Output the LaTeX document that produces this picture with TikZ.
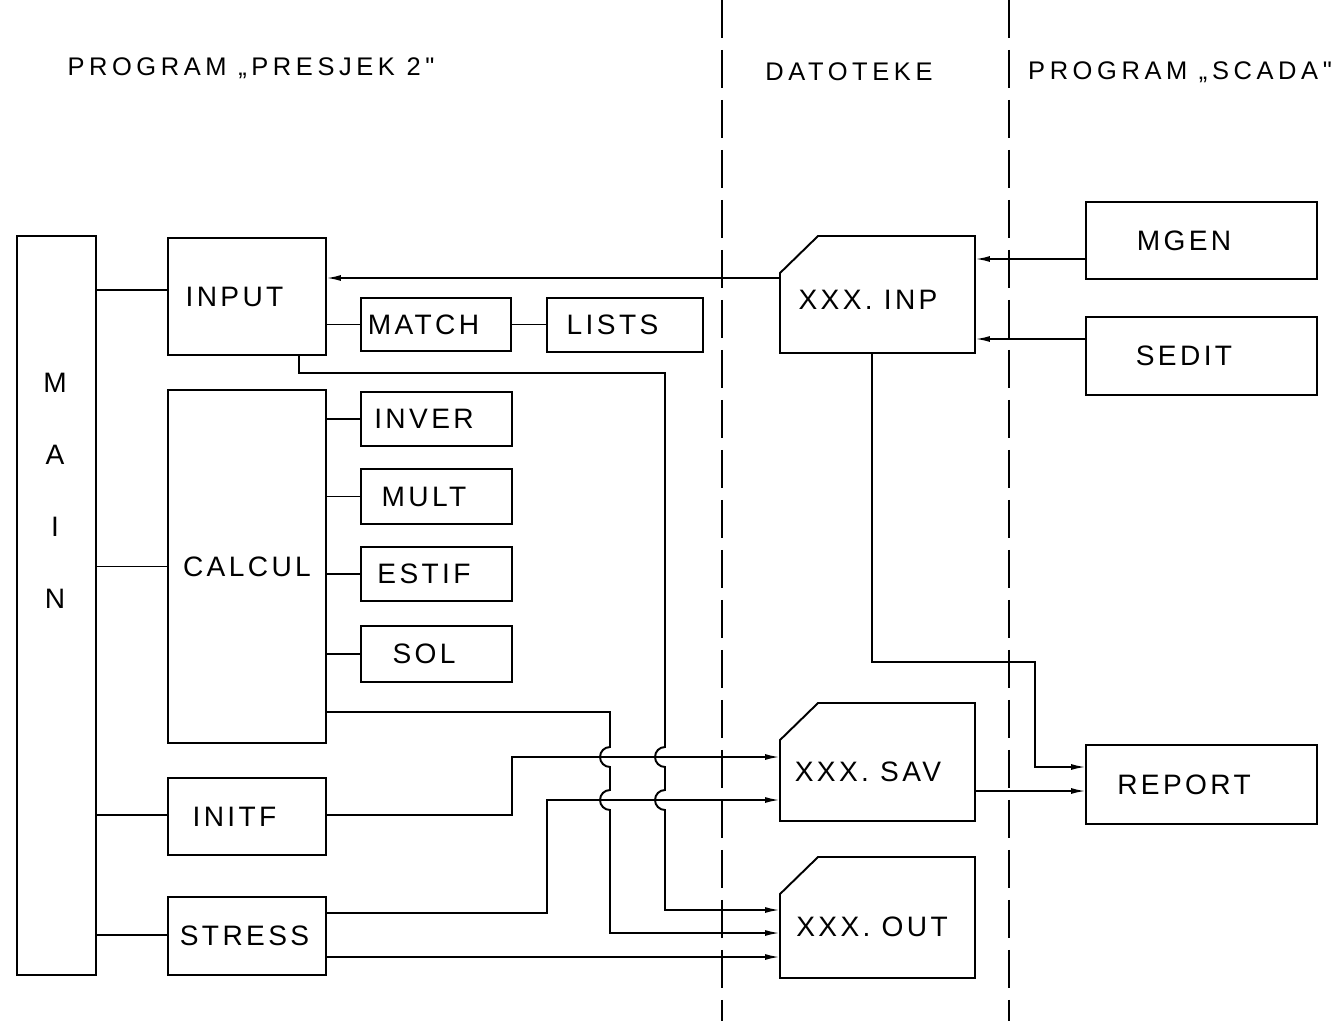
\documentclass[tikz,border=0pt]{standalone}
\usepackage{fontspec}
\setmainfont{Liberation Sans}
\newfontfamily\lblfont[LetterSpace=12]{Liberation Sans}
\newfontfamily\headfont[LetterSpace=18]{Liberation Sans}
\usetikzlibrary{arrows.meta}
\begin{document}
\begin{tikzpicture}[x=0.02cm,y=-0.02cm,line width=1.1pt,
  box/.style={draw,rectangle,inner sep=0pt,outer sep=0pt,font=\lblfont\fontsize{16}{19}\selectfont,
    execute at end node={\hspace*{#1}}},
  box/.default=0.5cm,
  fbox/.style={rectangle,inner sep=0pt,outer sep=0pt},
  lbl/.style={inner sep=0pt,font=\lblfont\fontsize{16}{19}\selectfont},
  head/.style={inner sep=0pt,font=\headfont\fontsize{14.5}{17}\selectfont},
  arr/.style={-{Latex[length=0.3cm,width=0.12cm]}},
  sep/.style={line width=1pt,dash pattern=on 0.76cm off 0.24cm}]
\useasboundingbox (0,0) rectangle (1335,1021);

% headings
\node[head] (h1) at (251,68) {PROGRAM „PRESJEK 2"};
\node[head] (h2) at (849,72) {DATOTEKE};
\node[head] (h3) at (1180,72) {PROGRAM „SCADA"};

% separators
\draw[sep] (722,0) -- (722,1021);
\draw[sep] (1009,0) -- (1009,1021);

% MAIN
\node[fbox,draw,minimum width=1.58cm,minimum height=14.78cm] (main) at (56.5,605.5) {};
\node[inner sep=0pt,align=center,font=\lblfont\fontsize{16}{41}\selectfont] (maintxt) at (55,491) {M\\A\\I\\N};

% program boxes
\node[box,minimum width=3.16cm,minimum height=2.34cm] (input) at (247,296.5) {INPUT};
\node[box,minimum width=3.0cm,minimum height=1.06cm] (match) at (436,324.5) {MATCH};
\node[box,minimum width=3.12cm,minimum height=1.08cm] (lists) at (625,325) {LISTS};
\node[box=0cm,minimum width=3.16cm,minimum height=7.06cm] (calcul) at (247,566.5) {CALCUL};
\node[box,minimum width=3.02cm,minimum height=1.08cm] (inver) at (436.5,419) {INVER};
\node[box,minimum width=3.02cm,minimum height=1.1cm] (mult) at (436.5,496.5) {MULT};
\node[box,minimum width=3.02cm,minimum height=1.08cm] (estif) at (436.5,574) {ESTIF};
\node[box,minimum width=3.02cm,minimum height=1.12cm] (sol) at (436.5,654) {SOL};
\node[box,minimum width=3.16cm,minimum height=1.54cm] (initf) at (247,816.5) {INITF};
\node[box=0.1cm,minimum width=3.16cm,minimum height=1.56cm] (stress) at (247,936) {STRESS};

% SCADA boxes
\node[box=0.7cm,minimum width=4.62cm,minimum height=1.54cm] (mgen) at (1201.5,240.5) {MGEN};
\node[box=0.7cm,minimum width=4.62cm,minimum height=1.56cm] (sedit) at (1201.5,356) {SEDIT};
\node[box=0.7cm,minimum width=4.62cm,minimum height=1.58cm] (report) at (1201.5,784.5) {REPORT};

% file boxes (chamfered)
\node[fbox,minimum width=3.9cm,minimum height=2.34cm] (inp) at (877.5,294.5) {};
\node[fbox,minimum width=3.9cm,minimum height=2.36cm] (sav) at (877.5,762) {};
\node[fbox,minimum width=3.9cm,minimum height=2.42cm] (out) at (877.5,917.5) {};
\foreach \f in {inp,sav,out}{
  \draw ([xshift=0.76cm]\f.north west) -- (\f.north east) -- (\f.south east)
    -- (\f.south west) -- ([yshift=-0.74cm]\f.north west) -- cycle;
}
\node[lbl] (inptxt) at (868,300) {XXX. INP};
\node[lbl] (savtxt) at (868,772) {XXX. SAV};
\node[lbl] (outtxt) at (872,927) {XXX. OUT};

% MAIN branches
\draw (main.east |- 0,290) -- (input.west |- 0,290);
\draw (main.east |- calcul.west) -- (calcul.west);
\draw (main.east |- 0,815) -- (initf.west |- 0,815);
\draw (main.east |- 0,935) -- (stress.west |- 0,935);

% subroutine links
\draw (input.east |- match.west) -- (match.west);
\draw (match.east) -- (lists.west |- match.east);
\draw (calcul.east |- inver.west) -- (inver.west);
\draw (calcul.east |- mult.west) -- (mult.west);
\draw (calcul.east |- estif.west) -- (estif.west);
\draw (calcul.east |- sol.west) -- (sol.west);

% file connections
\draw[arr] (inp.west |- 0,278) -- (input.east |- 0,278);
\draw[arr] (mgen.west |- 0,259) -- (inp.east |- 0,259);
\draw[arr] (sedit.west |- 0,339) -- (inp.east |- 0,339);
\draw[arr] (inp.south -| 872,0) -- (872,662) -- (1035,662) -- (1035,767) -- (report.west |- 0,767);
\draw[arr] (sav.east |- 0,791) -- (report.west |- 0,791);

\draw[arr] (input.south -| 299,0) -- (299,373) -- (665,373) -- (665,747)
  arc[start angle=90,end angle=270,radius=0.2cm] -- (665,790)
  arc[start angle=90,end angle=270,radius=0.2cm] -- (665,910) -- (out.west |- 0,910);
\draw[arr] (calcul.east |- 0,712) -- (610,712) -- (610,747)
  arc[start angle=90,end angle=270,radius=0.2cm] -- (610,790)
  arc[start angle=90,end angle=270,radius=0.2cm] -- (610,933) -- (out.west |- 0,933);
\draw[arr] (initf.east |- 0,815) -- (512,815) -- (512,757) -- (sav.west |- 0,757);
\draw[arr] (stress.east |- 0,913) -- (547,913) -- (547,800) -- (sav.west |- 0,800);
\draw[arr] (stress.east |- 0,957) -- (out.west |- 0,957);
\end{tikzpicture}
\end{document}
